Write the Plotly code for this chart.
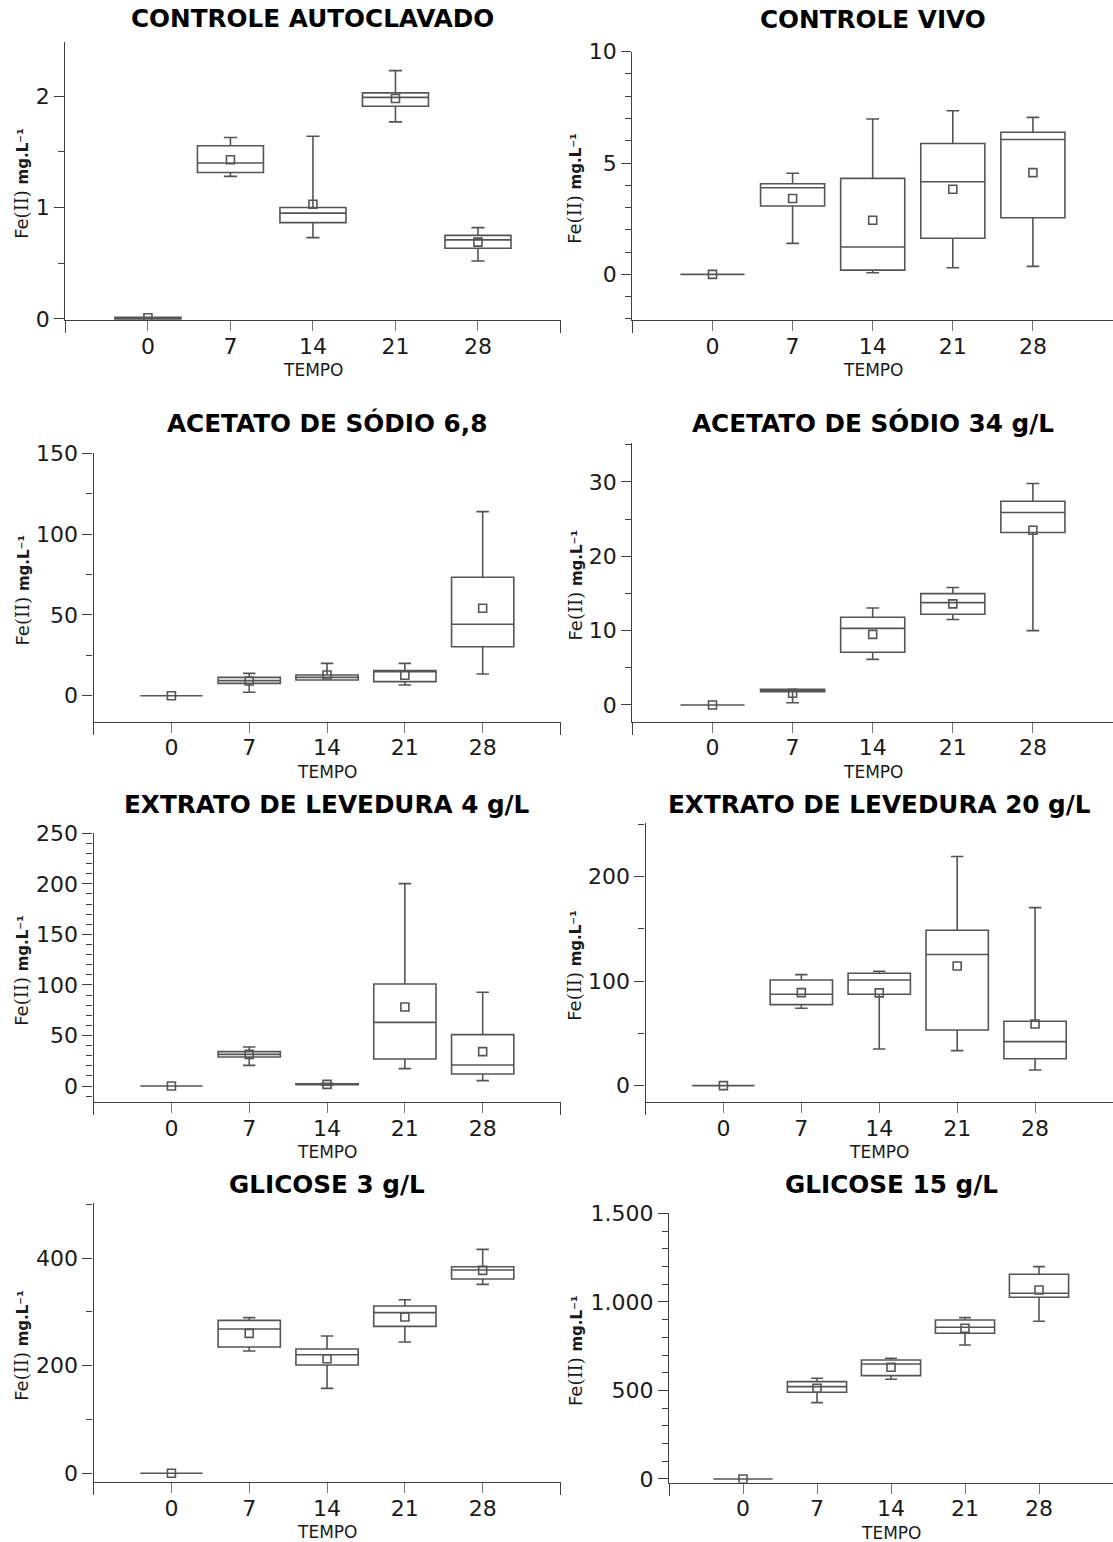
import plotly.graph_objects as go

W, H = 1113, 1542

# Sampling days (x categories)
tempo = ["0", "7", "14", "21", "28"]
posicoes = [0, 1, 2, 3, 4]

titulos = [
    "CONTROLE AUTOCLAVADO", "CONTROLE VIVO",
    "ACETATO DE SÓDIO 6,8", "ACETATO DE SÓDIO 34 g/L",
    "EXTRATO DE LEVEDURA 4 g/L", "EXTRATO DE LEVEDURA 20 g/L",
    "GLICOSE 3 g/L", "GLICOSE 15 g/L",
]

# Fe(II) mg/L box statistics per treatment: whisker min, Q1, median, Q3, whisker max, mean
autoclavado_min = [0, 1.28, 0.73, 1.77, 0.52]
autoclavado_q1 = [0, 1.315, 0.865, 1.91, 0.635]
autoclavado_med = [0, 1.40, 0.95, 1.99, 0.71]
autoclavado_q3 = [0.015, 1.555, 1.00, 2.03, 0.75]
autoclavado_max = [0.015, 1.63, 1.64, 2.23, 0.82]
autoclavado_media = [0.01, 1.43, 1.03, 1.98, 0.69]

vivo_min = [0, 1.39, 0.07, 0.30, 0.36]
vivo_q1 = [0, 3.07, 0.19, 1.62, 2.54]
vivo_med = [0, 3.89, 1.23, 4.16, 6.06]
vivo_q3 = [0, 4.07, 4.31, 5.88, 6.38]
vivo_max = [0, 4.54, 6.98, 7.35, 7.05]
vivo_media = [0, 3.41, 2.43, 3.82, 4.57]

acetato68_min = [0, 2.1, 9.7, 6.6, 13.4]
acetato68_q1 = [0, 7.6, 9.7, 8.7, 30.3]
acetato68_med = [0, 9.3, 11.3, 14.9, 44.2]
acetato68_q3 = [0, 11.3, 12.8, 15.5, 73.3]
acetato68_max = [0, 13.8, 20.0, 20.0, 113.9]
acetato68_media = [0, 9.1, 12.8, 12.6, 54.1]

acetato34_min = [0, 0.3, 6.14, 11.5, 10.0]
acetato34_q1 = [0, 1.8, 7.09, 12.2, 23.2]
acetato34_med = [0, 1.97, 10.3, 13.77, 25.9]
acetato34_q3 = [0, 2.1, 11.8, 14.98, 27.4]
acetato34_max = [0, 2.1, 13.05, 15.8, 29.8]
acetato34_media = [0, 1.57, 9.5, 13.6, 23.5]

levedura4_min = [0, 20.4, 0.8, 17.2, 5.3]
levedura4_q1 = [0, 28.7, 1.3, 26.7, 11.9]
levedura4_med = [0, 31.3, 1.6, 63.0, 20.8]
levedura4_q3 = [0, 34.0, 2.3, 100.9, 50.8]
levedura4_max = [0, 38.6, 2.8, 200.2, 92.7]
levedura4_media = [0, 31.3, 1.6, 78.2, 34.0]

levedura20_min = [0, 74.0, 35.1, 33.5, 15.0]
levedura20_q1 = [0, 77.5, 87.4, 53.3, 25.8]
levedura20_med = [0, 87.4, 101.1, 125.4, 42.1]
levedura20_q3 = [0, 101.1, 107.5, 148.6, 61.6]
levedura20_max = [0, 106.2, 109.4, 219.1, 170.3]
levedura20_media = [0, 89.0, 88.7, 114.5, 59.0]

glicose3_min = [0, 227.2, 157.9, 244.0, 351.1]
glicose3_q1 = [0, 234.7, 201.2, 273.1, 361.0]
glicose3_med = [0, 268.1, 220.4, 298.5, 377.7]
glicose3_q3 = [0, 284.2, 231.0, 310.8, 383.9]
glicose3_max = [0, 289.2, 255.1, 322.6, 416.1]
glicose3_media = [0, 260.1, 213.0, 290.4, 377.1]

glicose15_min = [0, 431.0, 562.8, 756.6, 890.3]
glicose15_q1 = [0, 489.4, 583.5, 822.5, 1025.8]
glicose15_med = [0, 521.4, 649.3, 856.4, 1048.4]
glicose15_q3 = [0, 549.6, 672.0, 897.8, 1155.7]
glicose15_max = [0, 568.4, 681.4, 911.0, 1199.0]
glicose15_media = [0, 512.0, 630.5, 850.7, 1067.2]

# y-axis ticks per panel
ticks_autoclavado = [0, 1, 2]
ticks_vivo = [0, 5, 10]
ticks_acetato68 = [0, 50, 100, 150]
ticks_acetato34 = [0, 10, 20, 30]
ticks_levedura4 = [0, 50, 100, 150, 200, 250]
ticks_levedura20 = [0, 100, 200]
ticks_glicose3 = [0, 200, 400]
ticks_glicose15 = [0, 500, 1000, 1500]
rotulos_glicose15 = ["0", "500", "1.000", "1.500"]

series = [
    (autoclavado_min, autoclavado_q1, autoclavado_med, autoclavado_q3, autoclavado_max, autoclavado_media),
    (vivo_min, vivo_q1, vivo_med, vivo_q3, vivo_max, vivo_media),
    (acetato68_min, acetato68_q1, acetato68_med, acetato68_q3, acetato68_max, acetato68_media),
    (acetato34_min, acetato34_q1, acetato34_med, acetato34_q3, acetato34_max, acetato34_media),
    (levedura4_min, levedura4_q1, levedura4_med, levedura4_q3, levedura4_max, levedura4_media),
    (levedura20_min, levedura20_q1, levedura20_med, levedura20_q3, levedura20_max, levedura20_media),
    (glicose3_min, glicose3_q1, glicose3_med, glicose3_q3, glicose3_max, glicose3_media),
    (glicose15_min, glicose15_q1, glicose15_med, glicose15_q3, glicose15_max, glicose15_media),
]

eixos_y = [
    dict(range=[-0.01, 2.49], tickvals=ticks_autoclavado, ticktext=[str(v) for v in ticks_autoclavado], minor=0.5),
    dict(range=[-2.05, 10], tickvals=ticks_vivo, ticktext=[str(v) for v in ticks_vivo], minor=1),
    dict(range=[-16.1, 150], tickvals=ticks_acetato68, ticktext=[str(v) for v in ticks_acetato68], minor=25),
    dict(range=[-2.25, 35.2], tickvals=ticks_acetato34, ticktext=[str(v) for v in ticks_acetato34], minor=5),
    dict(range=[-16.1, 250], tickvals=ticks_levedura4, ticktext=[str(v) for v in ticks_levedura4], minor=10),
    dict(range=[-15.9, 250.9], tickvals=ticks_levedura20, ticktext=[str(v) for v in ticks_levedura20], minor=50),
    dict(range=[-16.7, 501.7], tickvals=ticks_glicose3, ticktext=[str(v) for v in ticks_glicose3], minor=100),
    dict(range=[-21, 1500], tickvals=ticks_glicose15, ticktext=rotulos_glicose15, minor=100),
]

# plot-area boxes in pixels: left, right, top, bottom
areas = [
    (65.4, 560.5, 41.7, 320),
    (632.4, 1113, 51.7, 320),
    (93.6, 560.5, 453.3, 721.7),
    (632.4, 1113, 443.3, 721.7),
    (93.6, 560.5, 833.3, 1102.3),
    (645.5, 1113, 823.3, 1102.3),
    (93.6, 560.5, 1203.3, 1482.3),
    (669, 1113, 1213.3, 1482.7),
]
titulo_y = [19, 20, 423, 422.5, 804, 804, 1184, 1184]

COR_CAIXA = "#555555"
COR_EIXO = "#404040"
FONTE = "DejaVu Sans"

ROTULO_Y = ("Fe<span style='font-family:DejaVu Serif'>(II)</span> "
            "<b style='font-size:15px'>mg.L⁻¹</b>")

fig = go.Figure()
layout = dict(
    template="none",
    width=W, height=H,
    margin=dict(l=0, r=0, t=0, b=0, pad=0, autoexpand=False),
    paper_bgcolor="white", plot_bgcolor="white",
    showlegend=False,
    font=dict(family=FONTE, color="#1a1a1a"),
    annotations=[],
)

for i, (stats, ey, area) in enumerate(zip(series, eixos_y, areas)):
    n = i + 1
    xa, ya = f"x{n}", f"y{n}"
    lo, q1, med, q3, hi, media = stats
    fig.add_trace(go.Box(
        x=posicoes, lowerfence=lo, q1=q1, median=med, q3=q3, upperfence=hi,
        xaxis=xa, yaxis=ya, width=0.8, whiskerwidth=0.2,
        line=dict(color=COR_CAIXA, width=1.6), fillcolor="rgba(0,0,0,0)",
        boxpoints=False, hoverinfo="skip",
    ))
    fig.add_trace(go.Scatter(
        x=posicoes, y=media, mode="markers", xaxis=xa, yaxis=ya,
        marker=dict(symbol="square-open", size=8, color=COR_CAIXA, line=dict(width=1.6, color=COR_CAIXA)),
        hoverinfo="skip",
    ))

    x0, x1, yt, yb = area
    layout[f"xaxis{n}"] = dict(
        domain=[x0 / W, x1 / W], anchor=ya, range=[-1, 5],
        tickmode="array", tickvals=posicoes, ticktext=tempo,
        showline=True, linecolor=COR_EIXO, linewidth=1.3,
        ticks="outside", ticklen=10, tickcolor="#777777", tickwidth=1.2,
        # end caps of the x axis
        minor=dict(tickmode="array", tickvals=[-1, 5], ticks="outside", ticklen=12,
                   tickcolor=COR_EIXO, tickwidth=1.4, showgrid=False),
        ticklabelstandoff=-4,
        tickfont=dict(size=22, family=FONTE, color="#1a1a1a"),
        showgrid=False, zeroline=False, fixedrange=True, automargin=False,
    )
    layout[f"yaxis{n}"] = dict(
        domain=[1 - yb / H, 1 - yt / H], anchor=xa, range=ey["range"],
        tickmode="array", tickvals=ey["tickvals"], ticktext=ey["ticktext"],
        showline=True, linecolor=COR_EIXO, linewidth=1.3,
        ticks="outside", ticklen=10, tickcolor=COR_EIXO, tickwidth=1.2,
        minor=dict(dtick=ey["minor"], tick0=0, ticks="outside", ticklen=6,
                   tickcolor=COR_EIXO, tickwidth=1.2, showgrid=False),
        tickfont=dict(size=22, family=FONTE, color="#1a1a1a"),
        showgrid=False, zeroline=False, fixedrange=True, automargin=False,
    )

    cx = (x0 + x1) / 2
    layout["annotations"].append(dict(
        text=f"<b>{titulos[i]}</b>", x=cx / W, y=1 - titulo_y[i] / H,
        xref="paper", yref="paper", xanchor="center", yanchor="middle",
        showarrow=False, font=dict(size=24.7, family=FONTE, color="black"),
    ))
    layout["annotations"].append(dict(
        text="TEMPO", x=cx / W, y=1 - (yb + 50) / H,
        xref="paper", yref="paper", xanchor="center", yanchor="middle",
        showarrow=False, font=dict(size=17, family=FONTE, color="#1a1a1a"),
    ))
    lx = 22 if i % 2 == 0 else 575
    layout["annotations"].append(dict(
        text=ROTULO_Y,
        x=lx / W, y=1 - ((yt + yb) / 2 + 3) / H, textangle=-90,
        xref="paper", yref="paper", xanchor="center", yanchor="middle",
        showarrow=False, font=dict(size=18, family=FONTE, color="#1a1a1a"),
    ))

fig.update_layout(**layout)
fig.write_html("out.html")
